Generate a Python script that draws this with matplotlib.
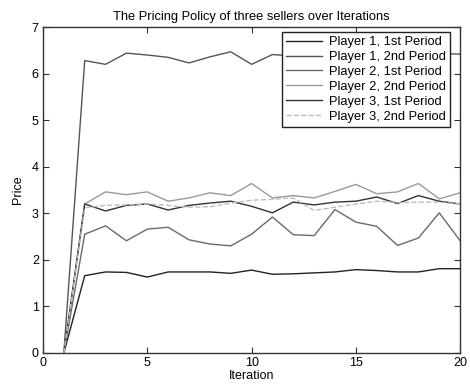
import matplotlib
matplotlib.use("Agg")
import matplotlib.pyplot as plt

plt.rcParams['font.family'] = ['Liberation Sans', 'DejaVu Sans']

iterations = list(range(1, 21))

p1_first = [0, 1.66, 1.74, 1.73, 1.63, 1.74, 1.74, 1.74, 1.71, 1.78,
            1.69, 1.70, 1.72, 1.74, 1.79, 1.77, 1.74, 1.74, 1.81, 1.81]
p1_second = [0, 6.28, 6.20, 6.44, 6.40, 6.35, 6.23, 6.36, 6.47, 6.20,
             6.41, 6.38, 6.42, 6.36, 6.44, 6.40, 6.45, 6.38, 6.43, 6.42]
p2_first = [0, 2.55, 2.73, 2.41, 2.66, 2.70, 2.43, 2.34, 2.30, 2.55,
            2.92, 2.54, 2.52, 3.08, 2.81, 2.72, 2.31, 2.47, 3.01, 2.41]
p2_second = [0, 3.20, 3.46, 3.40, 3.46, 3.26, 3.33, 3.44, 3.38, 3.64,
             3.33, 3.38, 3.33, 3.47, 3.62, 3.42, 3.46, 3.64, 3.31, 3.44]
p3_first = [0, 3.20, 3.05, 3.17, 3.20, 3.07, 3.17, 3.22, 3.26, 3.15,
            3.01, 3.24, 3.18, 3.24, 3.26, 3.35, 3.21, 3.38, 3.26, 3.20]
p3_second = [0, 3.12, 3.17, 3.18, 3.20, 3.17, 3.13, 3.14, 3.22, 3.28,
             3.30, 3.33, 3.06, 3.13, 3.20, 3.26, 3.23, 3.24, 3.24, 3.20]

labels = ["Player 1, 1st Period", "Player 1, 2nd Period",
          "Player 2, 1st Period", "Player 2, 2nd Period",
          "Player 3, 1st Period", "Player 3, 2nd Period"]
series = [p1_first, p1_second, p2_first, p2_second, p3_first, p3_second]
colors = ["#222222", "#555555", "#6a6a6a", "#9a9a9a", "#333333", "#bdbdbd"]
styles = ["-", "-", "-", "-", "-", "--"]

fig = plt.figure(figsize=(4.70, 3.87), dpi=100)
ax = fig.add_axes([0.0915, 0.088, 0.8875, 0.842])

for ys, lab, c, ls in zip(series, labels, colors, styles):
    ax.plot(iterations, ys, color=c, linestyle=ls, linewidth=1.0, label=lab)

ax.set_xlim(0, 20)
ax.set_ylim(0, 7)
ax.set_xticks([0, 5, 10, 15, 20])
ax.set_yticks(range(0, 8))
ax.tick_params(direction='in', top=True, right=True, length=4,
               width=0.8, labelsize=9, color='#333333', pad=3)
for s in ax.spines.values():
    s.set_color('#333333')
    s.set_linewidth(1.0)

ax.set_title("The Pricing Policy of three sellers over Iterations",
             fontsize=9.3, pad=5)
ax.set_xlabel("Iteration", fontsize=9, labelpad=1)
ax.set_ylabel("Price", fontsize=9, labelpad=6)

leg = ax.legend(loc='upper right', bbox_to_anchor=(0.976, 0.984),
                fontsize=9.3, frameon=True, fancybox=False,
                edgecolor='#222222', framealpha=1.0, borderpad=0.3,
                labelspacing=0.22, handlelength=2.8, handletextpad=0.55,
                borderaxespad=0.0)
leg.get_frame().set_linewidth(1.0)

fig.savefig("out.png", dpi=100)
